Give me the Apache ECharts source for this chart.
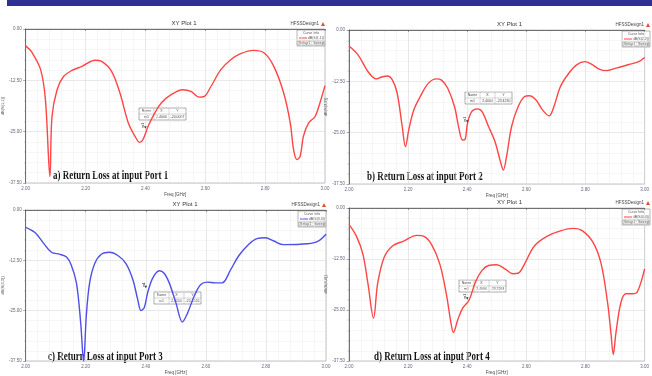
<!DOCTYPE html>
<html>
<head>
<meta charset="utf-8">
<script src="https://cdn.jsdelivr.net/npm/echarts@6/dist/echarts.min.js"></script>
<style>
  html, body { margin: 0; padding: 0; background: #fff; }
  #chart { width: 652px; height: 376px; }
</style>
</head>
<body>
<div id="chart"></div>
<script>
// return loss curves, [freq GHz, dB]
const port1 = [[2.000,-4.1],[2.020,-5.6],[2.050,-9.9],[2.066,-17.2],[2.081,-35.9],[2.088,-21.3],[2.105,-14.8],[2.127,-11.5],[2.155,-10.1],[2.188,-9.1],[2.232,-7.6],[2.254,-7.9],[2.287,-10.3],[2.315,-15.6],[2.343,-22.9],[2.365,-26.1],[2.381,-27.6],[2.392,-26.9],[2.409,-23.7],[2.431,-20.5],[2.453,-18.0],[2.486,-16.0],[2.525,-14.8],[2.552,-15.2],[2.580,-16.6],[2.597,-16.4],[2.619,-14.0],[2.652,-9.9],[2.685,-7.5],[2.718,-6.0],[2.762,-5.2],[2.796,-5.8],[2.829,-9.1],[2.862,-15.6],[2.884,-22.9],[2.895,-29.4],[2.906,-31.8],[2.917,-31.0],[2.928,-26.1],[2.945,-22.9],[2.967,-21.3],[2.983,-18.0],[3.000,-13.8]];
const port2 = [[2.000,-3.9],[2.031,-6.1],[2.064,-10.1],[2.092,-11.9],[2.108,-11.5],[2.130,-11.2],[2.147,-12.2],[2.163,-15.4],[2.180,-23.5],[2.191,-28.4],[2.202,-24.4],[2.219,-19.5],[2.241,-16.2],[2.268,-13.0],[2.296,-11.9],[2.313,-12.2],[2.334,-14.2],[2.357,-18.7],[2.373,-24.4],[2.384,-26.8],[2.393,-26.6],[2.401,-22.7],[2.415,-19.9],[2.434,-19.2],[2.450,-19.9],[2.472,-23.5],[2.494,-27.2],[2.511,-31.7],[2.522,-34.1],[2.533,-30.8],[2.550,-23.5],[2.572,-18.7],[2.594,-16.2],[2.610,-16.0],[2.632,-17.0],[2.655,-19.5],[2.677,-20.9],[2.693,-18.7],[2.715,-13.8],[2.743,-10.6],[2.770,-8.5],[2.798,-7.7],[2.820,-8.3],[2.848,-9.6],[2.870,-9.9],[2.903,-9.3],[2.947,-8.4],[2.980,-7.7],[3.000,-6.7]];
const port3 = [[2.000,-4.3],[2.031,-5.6],[2.058,-8.1],[2.086,-10.5],[2.114,-11.0],[2.136,-11.7],[2.152,-13.7],[2.169,-18.1],[2.183,-27.8],[2.193,-37.5],[2.202,-26.2],[2.213,-18.1],[2.230,-13.3],[2.252,-11.0],[2.279,-10.5],[2.307,-11.3],[2.334,-13.3],[2.357,-17.3],[2.373,-22.2],[2.384,-25.0],[2.395,-24.2],[2.406,-20.6],[2.423,-16.9],[2.445,-15.1],[2.461,-15.7],[2.478,-18.1],[2.500,-23.0],[2.522,-27.8],[2.538,-25.8],[2.561,-21.4],[2.583,-18.5],[2.605,-17.9],[2.632,-18.1],[2.654,-18.1],[2.682,-14.9],[2.710,-11.3],[2.743,-8.5],[2.770,-7.1],[2.798,-6.9],[2.826,-7.7],[2.859,-8.6],[2.914,-8.5],[2.969,-7.9],[3.000,-6.0]];
const port4 = [[2.000,-4.0],[2.025,-6.9],[2.047,-11.3],[2.064,-18.5],[2.083,-27.0],[2.097,-18.5],[2.119,-12.1],[2.147,-9.3],[2.185,-8.1],[2.230,-6.7],[2.252,-6.9],[2.279,-8.9],[2.307,-13.7],[2.329,-21.0],[2.345,-28.2],[2.353,-30.5],[2.368,-27.4],[2.384,-24.6],[2.406,-22.6],[2.428,-18.1],[2.450,-15.3],[2.472,-14.1],[2.500,-13.9],[2.527,-14.9],[2.555,-16.1],[2.572,-16.0],[2.594,-13.7],[2.627,-9.3],[2.671,-6.9],[2.715,-5.6],[2.759,-5.0],[2.790,-5.6],[2.826,-8.5],[2.853,-13.7],[2.875,-23.4],[2.886,-30.6],[2.894,-35.9],[2.903,-30.6],[2.919,-23.4],[2.936,-21.0],[2.958,-21.0],[2.975,-20.6],[3.000,-14.9]];

const curveNames = ['dB(S(1,1))', 'dB(S(2,2))', 'dB(S(3,3))', 'dB(S(4,4))'];
const captions = ['a) Return Loss at input Port 1', 'b) Return Loss at input Port 2',
                  'c) Return Loss at input Port 3', 'd) Return Loss at input Port 4'];
const markerX = 2.4;
const markerY = ['-20.0067', '-23.4230', '-20.1466', '-23.2264'];
const markerLabelY = [-24, -22.3, -19.1, -22.2];
const curves = [port1, port2, port3, port4];

const RED = '#ff4545';
const BLUE = '#4f4fe8';
const colors = [RED, RED, BLUE, RED];

// pixel layout of the four HFSS plot frames
const panels = [
  { left: 23,  top: 29,  width: 302, height: 154, cap: [53, 176],  table: [139, 108] },
  { left: 349, top: 30,  width: 301, height: 154, cap: [367, 177], table: [465, 92] },
  { left: 24,  top: 210, width: 302, height: 155, cap: [48, 357],  table: [154, 292] },
  { left: 349, top: 208, width: 301, height: 155, cap: [374, 357], table: [459, 280] }
];

const tickColor = '#6e5f80';
const smallFont = 'Liberation Sans';

const chart = echarts.init(document.getElementById('chart'));

const graphics = [
  { type: 'rect', shape: { x: 7, y: 0, width: 645, height: 6 }, style: { fill: '#2e3192' } }
];

panels.forEach((p, i) => {
  const right = p.left + p.width + 1;
  // title
  graphics.push({
    type: 'text', x: p.left + p.width / 2 + 10, y: p.top - 6,
    style: { text: 'XY Plot 1', font: '6px ' + smallFont, fill: '#333', align: 'center', verticalAlign: 'middle' }
  });
  // design name + icon
  graphics.push({
    type: 'text', x: right - 7, y: p.top - 5,
    style: { text: 'HFSSDesign1', font: '4.5px ' + smallFont, fill: '#444', align: 'right', verticalAlign: 'middle' }
  });
  graphics.push({
    type: 'polygon', shape: { points: [[right - 5, p.top - 3], [right - 3, p.top - 7], [right - 1, p.top - 3]] },
    style: { fill: '#d9542b' }
  });
  // curve info box
  const bx = right - 29, by = p.top + 1;
  graphics.push({ type: 'rect', shape: { x: bx, y: by, width: 28, height: 16 },
    style: { fill: '#fff', stroke: '#888', lineWidth: 0.6 } });
  graphics.push({ type: 'text', x: bx + 14, y: by + 3,
    style: { text: 'Curve Info', font: '3.5px ' + smallFont, fill: '#555', align: 'center', verticalAlign: 'middle' } });
  graphics.push({ type: 'line', shape: { x1: bx + 2, y1: by + 8, x2: bx + 10, y2: by + 8 },
    style: { stroke: colors[i], lineWidth: 1 } });
  graphics.push({ type: 'text', x: bx + 27, y: by + 8,
    style: { text: curveNames[i], font: '3.5px ' + smallFont, fill: '#555', align: 'right', verticalAlign: 'middle' } });
  graphics.push({ type: 'rect', shape: { x: bx + 1, y: by + 11, width: 26, height: 4 },
    style: { fill: 'none', stroke: '#777', lineWidth: 0.5 } });
  graphics.push({ type: 'text', x: bx + 2, y: by + 13,
    style: { text: 'Setup1 : Sweep', font: '3.5px ' + smallFont, fill: '#555', verticalAlign: 'middle' } });
  // marker table
  const tx = p.table[0], ty = p.table[1];
  graphics.push({ type: 'rect', shape: { x: tx, y: ty, width: 47, height: 12 },
    style: { fill: '#fff', stroke: '#777', lineWidth: 0.6 } });
  graphics.push({ type: 'line', shape: { x1: tx, y1: ty + 6, x2: tx + 47, y2: ty + 6 }, style: { stroke: '#aaa', lineWidth: 0.5 } });
  graphics.push({ type: 'line', shape: { x1: tx + 15, y1: ty, x2: tx + 15, y2: ty + 12 }, style: { stroke: '#aaa', lineWidth: 0.5 } });
  graphics.push({ type: 'line', shape: { x1: tx + 30, y1: ty, x2: tx + 30, y2: ty + 12 }, style: { stroke: '#aaa', lineWidth: 0.5 } });
  [['Name', 'X', 'Y'], ['m1', markerX.toFixed(4), markerY[i]]].forEach((row, r) => {
    row.forEach((t, c) => {
      graphics.push({ type: 'text', x: tx + [7.5, 22.5, 38.5][c], y: ty + 3 + r * 6,
        style: { text: t, font: '3.5px ' + smallFont, fill: '#444', align: 'center', verticalAlign: 'middle' } });
    });
  });
  // caption
  graphics.push({
    type: 'text', x: p.cap[0], y: p.cap[1], scaleX: 0.78,
    style: { text: captions[i], font: 'bold 11.5px "Liberation Serif"', fill: '#111', verticalAlign: 'middle' }
  });
});

const option = {
  animation: false,
  backgroundColor: '#fff',
  grid: panels.map(p => ({
    left: p.left, top: p.top, width: p.width, height: p.height,
    show: true, borderColor: '#9a9a9a', borderWidth: 0.6
  })),
  xAxis: panels.map((p, i) => ({
    type: 'value', gridIndex: i, min: 2, max: 3, interval: 0.2,
    name: 'Freq [GHz]', nameLocation: 'middle', nameGap: 9,
    nameTextStyle: { fontSize: 4.5, color: '#444', fontFamily: smallFont },
    axisLine: { lineStyle: { color: '#555', width: 0.8 } },
    axisTick: { length: 2, lineStyle: { color: '#555', width: 0.5 } },
    minorTick: { show: true, splitNumber: 5, length: 1.2, lineStyle: { color: '#777', width: 0.4 } },
    axisLabel: { fontSize: 4.5, color: tickColor, margin: 3, fontFamily: smallFont, formatter: v => v.toFixed(2) },
    splitLine: { lineStyle: { color: '#d8d8d8', width: 0.6 } },
    minorSplitLine: { show: true, lineStyle: { color: '#ececec', width: 0.5 } }
  })),
  yAxis: panels.map((p, i) => ({
    type: 'value', gridIndex: i, min: -37.5, max: 0, interval: 12.5,
    name: curveNames[i], nameLocation: 'middle', nameGap: 12, nameRotate: 90,
    nameTextStyle: { fontSize: 4, color: '#555', fontFamily: smallFont },
    axisLine: { show: true, lineStyle: { color: '#555', width: 0.8 } },
    axisTick: { show: true, length: 2.5, lineStyle: { color: '#555', width: 0.5 } },
    minorTick: { show: true, splitNumber: 5, length: 1.5, lineStyle: { color: '#777', width: 0.4 } },
    axisLabel: { fontSize: 4.5, color: tickColor, margin: 4, fontFamily: smallFont, formatter: v => v.toFixed(2) },
    splitLine: { lineStyle: { color: '#d8d8d8', width: 0.6 } },
    minorSplitLine: { show: true, lineStyle: { color: '#ececec', width: 0.5 } }
  })),
  series: curves.map((data, i) => ({
    type: 'line', xAxisIndex: i, yAxisIndex: i, data: data,
    smooth: 0.35, symbol: 'none', clip: true,
    lineStyle: { color: colors[i], width: 1.4 },
    markPoint: {
      symbol: 'triangle', symbolSize: 2.5, symbolRotate: 180,
      itemStyle: { color: '#333' },
      label: { show: true, formatter: 'm1', fontSize: 3.5, color: '#333', rotate: 90, position: 'top', distance: 1 },
      data: [{ coord: [markerX, markerLabelY[i]] }]
    }
  })),
  graphic: graphics
};

chart.setOption(option);
</script>
</body>
</html>
